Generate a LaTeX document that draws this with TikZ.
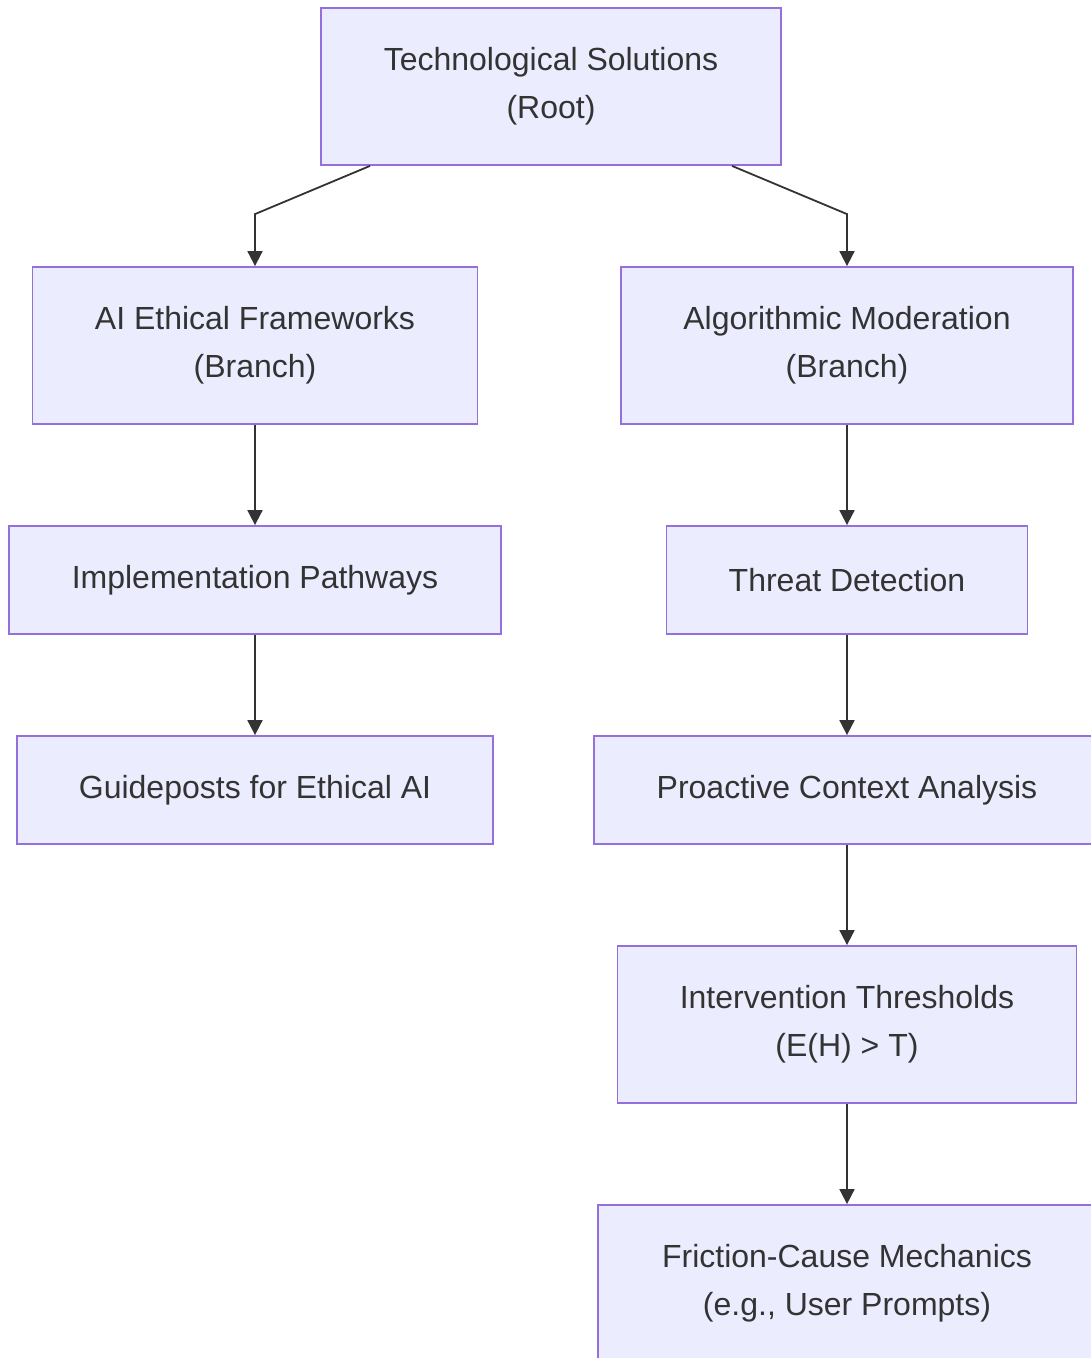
\documentclass[tikz,border=0pt]{standalone}
\usepackage{fontspec}
\setmainfont{Liberation Sans}
\usetikzlibrary{arrows.meta}
\definecolor{boxfill}{HTML}{ECECFF}
\definecolor{boxline}{HTML}{9370DB}
\definecolor{ink}{HTML}{333333}
\tikzset{
  box/.style={draw=boxline, fill=boxfill, line width=1.8pt, text=ink, align=center,
    inner sep=0pt, font=\fontsize{32}{48}\selectfont},
  arr/.style={draw=ink, line width=1.8pt, -{Triangle[length=15pt,width=15pt]}}
}
\begin{document}
\begin{tikzpicture}[x=1pt,y=-1pt]
\useasboundingbox (0,0) rectangle (1091,1358);
\clip (0,0) rectangle (1091,1358);
\node[box, minimum width=460pt, minimum height=157pt] (root) at (551,86.5) {Technological Solutions\\(Root)};
\node[box, minimum width=445pt, minimum height=157pt] (ai) at (255,345.5) {AI Ethical Frameworks\\(Branch)};
\node[box, minimum width=452pt, minimum height=157pt] (alg) at (847,345.5) {Algorithmic Moderation\\(Branch)};
\node[box, minimum width=492pt, minimum height=108pt] (impl) at (255,580) {Implementation Pathways};
\node[box, minimum width=361pt, minimum height=108pt] (threat) at (847,580) {Threat Detection};
\node[box, minimum width=476pt, minimum height=108pt] (guide) at (255,790) {Guideposts for Ethical AI};
\node[box, minimum width=506pt, minimum height=108pt] (proact) at (847,790) {Proactive Context Analysis};
\node[box, minimum width=459pt, minimum height=157pt] (interv) at (847,1024.5) {Intervention Thresholds\\(E(H) > T)};
\node[box, minimum width=498pt, minimum height=157pt] (fric) at (847,1283.5) {Friction-Cause Mechanics\\(e.g., User Prompts)};
\draw[arr] ([xshift=-181pt]root.south) -- ([yshift=52pt]ai.north) -- (ai.north);
\draw[arr] ([xshift=181pt]root.south) -- ([yshift=52pt]alg.north) -- (alg.north);
\draw[arr] (ai.south) -- (impl.north);
\draw[arr] (impl.south) -- (guide.north);
\draw[arr] (alg.south) -- (threat.north);
\draw[arr] (threat.south) -- (proact.north);
\draw[arr] (proact.south) -- (interv.north);
\draw[arr] (interv.south) -- (fric.north);
\end{tikzpicture}
\end{document}
